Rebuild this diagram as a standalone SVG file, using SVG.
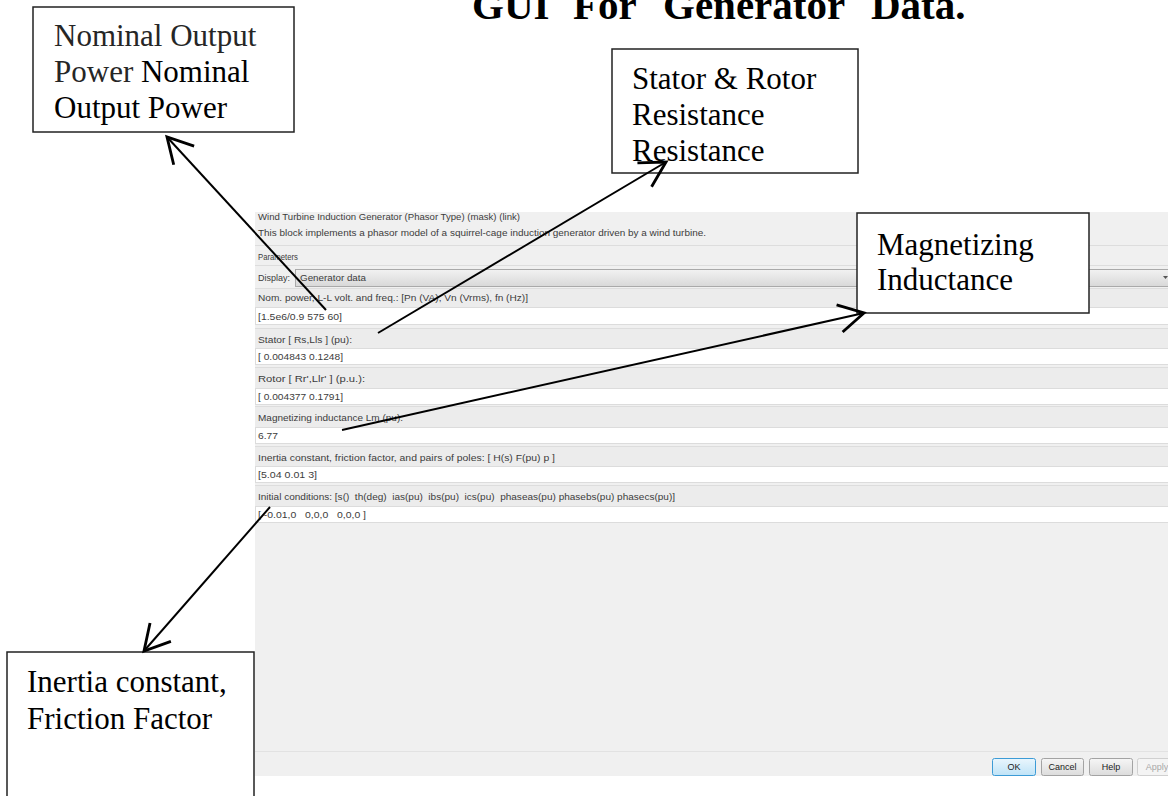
<svg xmlns="http://www.w3.org/2000/svg" width="1168" height="796" viewBox="0 0 1168 796">
<style>
.ttl{font-family:"Liberation Serif","Times New Roman",serif;font-weight:bold;font-size:41px;fill:#000}
.cl{font-family:"Liberation Serif","Times New Roman",serif;font-size:31px;fill:#000}
.box{fill:#fff;stroke:#222;stroke-width:1.5}
.ui{font-family:"Liberation Sans",Arial,sans-serif;font-size:9px;fill:#3c3c3c}
.fld{fill:#fff;stroke:#dcdcdc;stroke-width:1}
.band{fill:#ececec}
.sep{stroke:#dddddd;stroke-width:1}
.btn{font-family:"Liberation Sans",Arial,sans-serif;font-size:9px;fill:#222;text-anchor:middle}
.conn{stroke:#000;stroke-width:2;fill:none}
</style>
<defs>
<marker id="ah" markerUnits="userSpaceOnUse" markerWidth="40" markerHeight="40" viewBox="-22 -14 26 28" refX="0" refY="0" orient="auto" overflow="visible">
<path d="M-17.5,-9.7 L0,0 L-17.5,9.7" fill="none" stroke="#000" stroke-width="2"/>
</marker>
<linearGradient id="dd" x1="0" y1="0" x2="0" y2="1"><stop offset="0" stop-color="#f2f2f2"/><stop offset="1" stop-color="#d8d8d8"/></linearGradient>
<linearGradient id="gb" x1="0" y1="0" x2="0" y2="1"><stop offset="0" stop-color="#f6f6f6"/><stop offset="1" stop-color="#dcdcdc"/></linearGradient>
<linearGradient id="bb" x1="0" y1="0" x2="0" y2="1"><stop offset="0" stop-color="#eaf6fd"/><stop offset="1" stop-color="#bfe3f7"/></linearGradient>
</defs>
<rect width="1168" height="796" fill="#fff"/>

<g id="title">
<text class="ttl" x="472" y="19">GUI</text>
<text class="ttl" x="573" y="19">For</text>
<text class="ttl" x="663" y="19">Generator</text>
<text class="ttl" x="871" y="19">Data.</text>
</g>

<g id="screenshot">
<rect x="255" y="212" width="913" height="564" fill="#f0f0f0"/>
<text class="ui" x="258" y="220" textLength="262" lengthAdjust="spacingAndGlyphs">Wind Turbine Induction Generator (Phasor Type) (mask) (link)</text>
<text class="ui" x="258" y="236" textLength="448" lengthAdjust="spacingAndGlyphs">This block implements a phasor model of a squirrel-cage induction generator driven by a wind turbine.</text>
<line class="sep" x1="255" y1="245.5" x2="1168" y2="245.5"/>
<text class="ui" x="258" y="260" textLength="40" lengthAdjust="spacingAndGlyphs">Parameters</text>
<line class="sep" x1="255" y1="265.5" x2="1168" y2="265.5"/>
<text class="ui" x="258" y="281" textLength="32" lengthAdjust="spacingAndGlyphs">Display:</text>
<rect x="295.5" y="269.5" width="880" height="17" fill="url(#dd)" stroke="#a9a9a9"/>
<text class="ui" x="300" y="281" textLength="66" lengthAdjust="spacingAndGlyphs">Generator data</text>
<path d="M1163,276 L1168,276 L1165.5,279 Z" fill="#555"/>

<rect class="band" x="255" y="289" width="913" height="19"/>
<line class="sep" x1="255" y1="288.5" x2="1168" y2="288.5"/>
<text class="ui" x="258" y="301" textLength="270" lengthAdjust="spacingAndGlyphs">Nom. power, L-L volt. and freq.: [Pn (VA), Vn (Vrms), fn (Hz)]</text>
<rect class="fld" x="255.5" y="307.5" width="913" height="17"/>
<text class="ui" x="258" y="320" textLength="84" lengthAdjust="spacingAndGlyphs">[1.5e6/0.9 575 60]</text>

<rect class="band" x="255" y="329" width="913" height="19"/>
<line class="sep" x1="255" y1="328.5" x2="1168" y2="328.5"/>
<text class="ui" x="258" y="343" textLength="94" lengthAdjust="spacingAndGlyphs">Stator [ Rs,Lls ] (pu):</text>
<rect class="fld" x="255.5" y="348.5" width="913" height="16"/>
<text class="ui" x="258" y="360" textLength="85" lengthAdjust="spacingAndGlyphs">[ 0.004843 0.1248]</text>

<rect class="band" x="255" y="368" width="913" height="20"/>
<line class="sep" x1="255" y1="367.5" x2="1168" y2="367.5"/>
<text class="ui" x="258" y="382" textLength="107" lengthAdjust="spacingAndGlyphs">Rotor [ Rr',Llr' ] (p.u.):</text>
<rect class="fld" x="255.5" y="388.5" width="913" height="16"/>
<text class="ui" x="258" y="400" textLength="85" lengthAdjust="spacingAndGlyphs">[ 0.004377 0.1791]</text>

<rect class="band" x="255" y="407" width="913" height="20"/>
<line class="sep" x1="255" y1="406.5" x2="1168" y2="406.5"/>
<text class="ui" x="258" y="421" textLength="145" lengthAdjust="spacingAndGlyphs">Magnetizing inductance Lm (pu):</text>
<rect class="fld" x="255.5" y="427.5" width="913" height="16"/>
<text class="ui" x="258" y="439" textLength="20" lengthAdjust="spacingAndGlyphs">6.77</text>

<rect class="band" x="255" y="447" width="913" height="19"/>
<line class="sep" x1="255" y1="446.5" x2="1168" y2="446.5"/>
<text class="ui" x="258" y="461" textLength="297" lengthAdjust="spacingAndGlyphs">Inertia constant, friction factor, and pairs of poles: [ H(s)  F(pu)  p ]</text>
<rect class="fld" x="255.5" y="466.5" width="913" height="16"/>
<text class="ui" x="258" y="478" textLength="59" lengthAdjust="spacingAndGlyphs">[5.04 0.01 3]</text>

<rect class="band" x="255" y="486" width="913" height="20"/>
<line class="sep" x1="255" y1="485.5" x2="1168" y2="485.5"/>
<text class="ui" x="258" y="500" textLength="417" lengthAdjust="spacingAndGlyphs" xml:space="preserve">Initial conditions: [s()  th(deg)  ias(pu)  ibs(pu)  ics(pu)  phaseas(pu) phasebs(pu) phasecs(pu)]</text>
<rect class="fld" x="255.5" y="506.5" width="913" height="16"/>
<text class="ui" x="258" y="518" textLength="108" lengthAdjust="spacingAndGlyphs" xml:space="preserve">[ -0.01,0   0,0,0   0,0,0 ]</text>

<line x1="255" y1="751.5" x2="1168" y2="751.5" stroke="#e2e2e2"/>
<rect x="992.5" y="758.5" width="43" height="17" rx="2" fill="url(#bb)" stroke="#3c9bd6"/>
<text class="btn" x="1014" y="770">OK</text>
<rect x="1041.5" y="758.5" width="42" height="17" rx="2" fill="url(#gb)" stroke="#a3a3a3"/>
<text class="btn" x="1062.5" y="770">Cancel</text>
<rect x="1089.5" y="758.5" width="43" height="17" rx="2" fill="url(#gb)" stroke="#a3a3a3"/>
<text class="btn" x="1111" y="770">Help</text>
<rect x="1137.5" y="758.5" width="40" height="17" rx="2" fill="#f4f4f4" stroke="#d0d0d0"/>
<text class="btn" x="1157" y="770" style="fill:#a8a8a8">Apply</text>
</g>

<g id="node-nominal-power">
<rect class="box" x="33" y="7" width="261" height="125"/>
<text class="cl" x="54" y="46" style="fill:#262626">Nominal Output</text>
<text class="cl" x="54" y="82"><tspan style="fill:#262626">Power</tspan> Nominal</text>
<text class="cl" x="54" y="118">Output Power</text>
</g>

<g id="node-stator-rotor">
<rect class="box" x="612" y="49" width="246" height="124"/>
<text class="cl" x="632" y="89">Stator &amp; Rotor</text>
<text class="cl" x="632" y="125">Resistance</text>
<text class="cl" x="632" y="161">Resistance</text>
</g>

<g id="node-magnetizing">
<rect class="box" x="857" y="213" width="232" height="100"/>
<text class="cl" x="877" y="255">Magnetizing</text>
<text class="cl" x="877" y="290">Inductance</text>
</g>

<g id="node-inertia">
<rect class="box" x="7" y="652" width="247" height="160"/>
<text class="cl" x="27" y="692">Inertia constant,</text>
<text class="cl" x="27" y="729">Friction Factor</text>
</g>

<g id="connectors">
<line class="conn" x1="326" y1="310" x2="167" y2="137" marker-end="url(#ah)"/>
<line class="conn" x1="378" y1="333" x2="666" y2="162" marker-end="url(#ah)"/>
<line class="conn" x1="342" y1="430" x2="864" y2="313" marker-end="url(#ah)"/>
<line class="conn" x1="270" y1="507" x2="144" y2="651" marker-end="url(#ah)"/>
</g>
</svg>
